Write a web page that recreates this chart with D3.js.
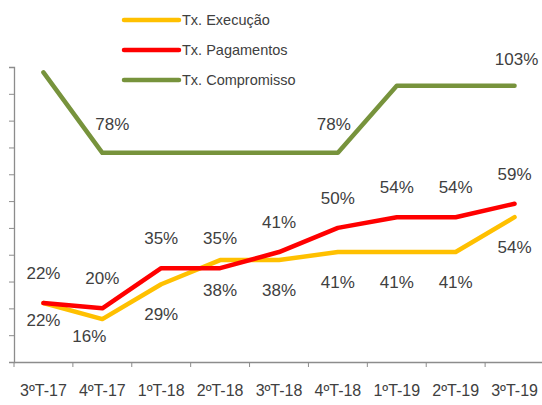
<!DOCTYPE html>
<html>
<head>
<meta charset="utf-8">
<script src="https://cdn.jsdelivr.net/npm/d3@7"></script>
<style>
	body { margin: 0; background: #fff; }
	text { font-family: 'Liberation Sans', Arial, sans-serif; fill: #404040; }
</style>
</head>
<body>
<svg width="542" height="405"></svg>
<script>
// quarters and rates (%)
const quarters = ['3ºT-17', '4ºT-17', '1ºT-18', '2ºT-18', '3ºT-18', '4ºT-18', '1ºT-19', '2ºT-19', '3ºT-19'];
const execucao = [22, 16, 29, 38, 38, 41, 41, 41, 54];
const pagamentos = [22, 20, 35, 35, 41, 50, 54, 54, 59];
const compromisso = [108, 78, 78, 78, 78, 78, 103, 103, 103];
// which compromisso points carry a label
const compromissoLabels = [null, '78%', null, null, null, '78%', null, null, '103%'];

var svg = d3.select('svg');

var x = d3.scaleBand().domain(quarters).range([14, 544]);
var y = d3.scaleLinear().domain([0, 110]).range([362, 67]);

// axes
var yAxis = svg.append('g')
	.attr('transform', 'translate(14,0)')
	.call(d3.axisLeft(y).tickValues(d3.range(0, 111, 10)).tickSize(5).tickFormat(''));
var xAxis = svg.append('g')
	.attr('transform', 'translate(0,362)')
	.call(d3.axisBottom(x).tickSize(0).tickPadding(23));
// tick marks on the category boundaries
xAxis.selectAll('.bound')
	.data(quarters)
	.enter()
	.append('line')
	.attr('x1', (d) => x(d))
	.attr('x2', (d) => x(d))
	.attr('y1', 0)
	.attr('y2', 5);
svg.selectAll('.domain, .tick line').attr('stroke', '#8c8c8c');
xAxis.selectAll('line').attr('stroke', '#8c8c8c');
xAxis.selectAll('text').style('font-size', '16px').attr('fill', '#404040');
svg.selectAll('.domain').attr('stroke-width', 1.3);

var cx = (d, i) => x(quarters[i]) + x.bandwidth() / 2;
var line = d3.line().x(cx).y((d) => y(d));

var series = [
	{ values: compromisso, color: '#77933C' },
	{ values: execucao, color: '#FFC000' },
	{ values: pagamentos, color: '#FF0000' }
];

series.forEach(function(s) {
	svg.append('path')
		.datum(s.values)
		.attr('fill', 'none')
		.attr('stroke', s.color)
		.attr('stroke-width', 4.5)
		.attr('stroke-linejoin', 'round')
		.attr('stroke-linecap', 'round')
		.attr('d', line);
});

// labels
var lbl = svg.append('g').style('font-size', '17px').attr('text-anchor', 'middle');
lbl.selectAll('.ex')
	.data(execucao)
	.enter()
	.append('text')
	.attr('x', (d, i) => cx(d, i) + (i == 1 ? -13 : 0))
	.attr('y', (d, i) => y(d) + (i < 2 ? 17 : 30))
	.attr('dy', '0.35em')
	.text((d) => d + '%');
lbl.selectAll('.pg')
	.data(pagamentos)
	.enter()
	.append('text')
	.attr('x', cx)
	.attr('y', (d) => y(d) - 30)
	.attr('dy', '0.35em')
	.text((d) => d + '%');
var cpShift = { 1: 10, 5: -4, 8: 2 };
lbl.selectAll('.cp')
	.data(compromisso)
	.enter()
	.append('text')
	.attr('x', (d, i) => cx(d, i) + (cpShift[i] || 0))
	.attr('y', (d, i) => y(d) - (i == 8 ? 27 : 29))
	.attr('dy', '0.35em')
	.text((d, i) => compromissoLabels[i] || '');

// legend
var legend = [
	{ name: 'Tx. Execução', color: '#FFC000' },
	{ name: 'Tx. Pagamentos', color: '#FF0000' },
	{ name: 'Tx. Compromisso', color: '#77933C' }
];
var lg = svg.append('g')
	.selectAll('g')
	.data(legend)
	.enter()
	.append('g')
	.attr('transform', (d, i) => 'translate(124,' + (20 + i * 30) + ')');
lg.append('line')
	.attr('x1', 0)
	.attr('x2', 55)
	.attr('stroke', (d) => d.color)
	.attr('stroke-width', 4.5)
	.attr('stroke-linecap', 'round');
lg.append('text')
	.attr('x', 58)
	.attr('dy', '0.35em')
	.style('font-size', '14.5px')
	.text((d) => d.name);
</script>
</body>
</html>
